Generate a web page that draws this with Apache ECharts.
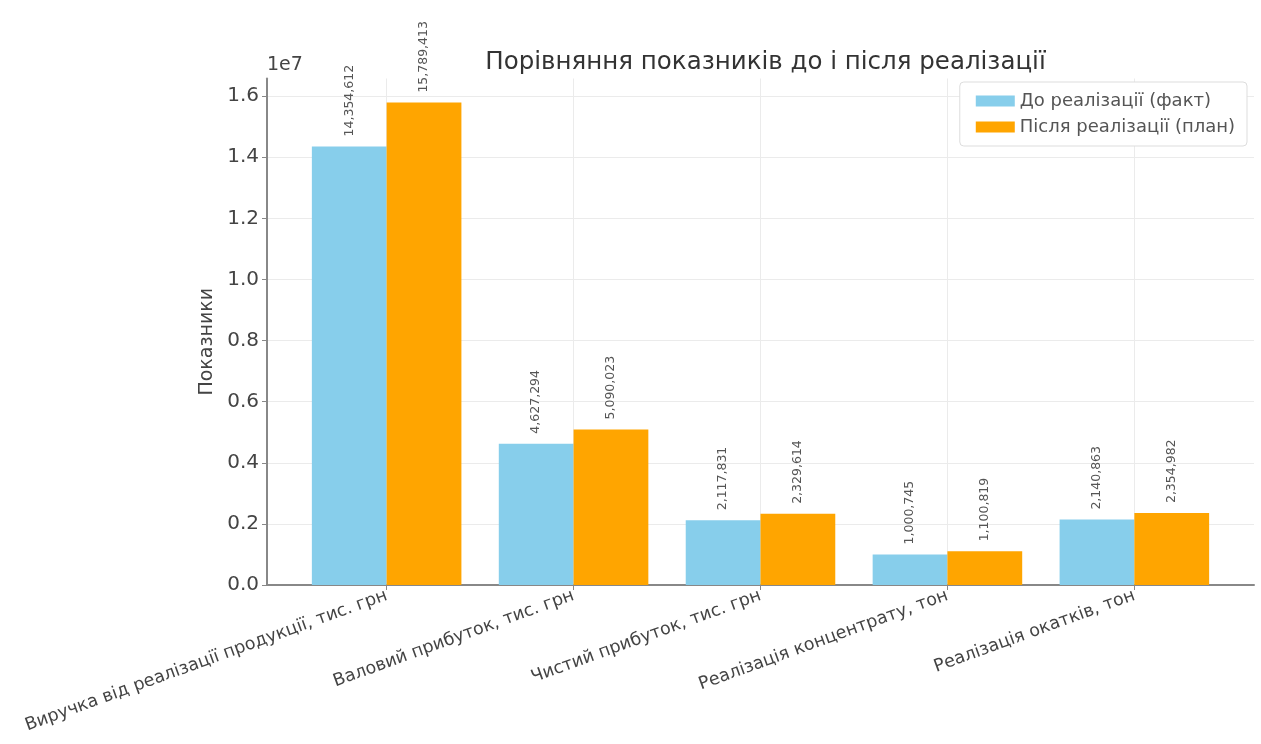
<!DOCTYPE html>
<html>
<head>
<meta charset="utf-8">
<script src="https://cdn.jsdelivr.net/npm/echarts@6/dist/echarts.min.js"></script>
<style>
  html, body { margin: 0; padding: 0; background: #fff; }
  #chart { width: 1261px; height: 744px; }
</style>
</head>
<body>
<div id="chart"></div>
<script>
// Indicator names and the two scenarios
const categories = [
  'Виручка від реалізації продукції, тис. грн',
  'Валовий прибуток, тис. грн',
  'Чистий прибуток, тис. грн',
  'Реалізація концентрату, тон',
  'Реалізація окатків, тон'
];
const seriesNames = ['До реалізації (факт)', 'Після реалізації (план)'];
const before = [14354612, 4627294, 2117831, 1000745, 2140863];
const after = [15789413, 5090023, 2329614, 1100819, 2354982];
const yTicks = [0, 2e6, 4e6, 6e6, 8e6, 10e6, 12e6, 14e6, 16e6];

const colors = ['#87CEEB', '#FFA500'];
const barSpan = 0.4;            // bar width in category units
const xPad = 0.64;              // margin around the outer bars
const yMax = Math.max(...after) * 1.05;
const fontFamily = 'DejaVu Sans, sans-serif';
const textColor = '#444';

const positions = categories.map((_, i) => i);
const fmt = v => v.toLocaleString('en-US');

const chart = echarts.init(document.getElementById('chart'));

const gridLeft = 267, gridRight = 7;
const plotWidth = 1261 - gridLeft - gridRight;
const unitPx = plotWidth / (categories.length - 1 + 2 * xPad);

function makeSeries(name, values, color) {
  return {
    name: name,
    type: 'bar',
    barWidth: barSpan * unitPx,
    barGap: '0%',
    itemStyle: { color: color },
    data: values.map((v, i) => [positions[i], v]),
    label: {
      show: true,
      position: 'top',
      rotate: 90,
      align: 'left',
      verticalAlign: 'middle',
      distance: 10,
      fontSize: 12.5,
      fontFamily: fontFamily,
      color: '#555',
      formatter: p => fmt(p.value[1])
    }
  };
}

chart.setOption({
  backgroundColor: '#fff',
  animation: false,
  title: {
    text: 'Порівняння показників до і після реалізації',
    left: gridLeft + plotWidth / 2,
    textAlign: 'center',
    top: 45,
    textStyle: { fontFamily: fontFamily, fontSize: 24.5, fontWeight: 'normal', color: '#333' }
  },
  graphic: [{
    type: 'text',
    left: gridLeft,
    top: 56,
    style: { text: '1e7', font: '19px DejaVu Sans, sans-serif', fill: textColor }
  }],
  legend: {
    orient: 'vertical',
    right: 14,
    top: 82,
    itemWidth: 39,
    itemHeight: 11,
    itemGap: 8,
    padding: [10, 12, 10, 16],
    borderColor: '#ddd',
    borderWidth: 1,
    borderRadius: 4,
    backgroundColor: '#fff',
    icon: 'rect',
    textStyle: { fontFamily: fontFamily, fontSize: 18, color: '#555' },
    data: seriesNames
  },
  grid: { left: gridLeft, right: gridRight, top: 78.5, bottom: 159, containLabel: false },
  xAxis: {
    type: 'value',
    min: -xPad,
    max: categories.length - 1 + xPad,
    axisLine: { show: true, lineStyle: { color: '#888', width: 2 } },
    axisTick: { show: true, customValues: positions, length: 5, lineStyle: { color: '#888' } },
    axisLabel: {
      customValues: positions,
      rotate: 20,
      fontSize: 17.5,
      fontFamily: fontFamily,
      color: textColor,
      margin: 10,
      formatter: v => categories[Math.round(v)]
    },
    splitLine: { show: true, lineStyle: { color: '#ebebeb', width: 1 } }
  },
  yAxis: {
    type: 'value',
    min: 0,
    max: yMax,
    name: 'Показники',
    nameLocation: 'middle',
    nameGap: 50,
    nameTextStyle: { fontFamily: fontFamily, fontSize: 19, color: textColor, padding: [0, 20, 0, 0] },
    axisLine: { show: true, onZero: false, lineStyle: { color: '#888', width: 2 } },
    axisTick: { show: true, customValues: yTicks, length: 5, lineStyle: { color: '#888' } },
    axisLabel: {
      customValues: yTicks,
      fontSize: 20,
      fontFamily: fontFamily,
      color: textColor,
      margin: 8,
      formatter: v => (v / 1e7).toFixed(1)
    },
    splitLine: { show: true, lineStyle: { color: '#ebebeb', width: 1 } }
  },
  series: [
    makeSeries(seriesNames[0], before, colors[0]),
    makeSeries(seriesNames[1], after, colors[1])
  ]
});
</script>
</body>
</html>
